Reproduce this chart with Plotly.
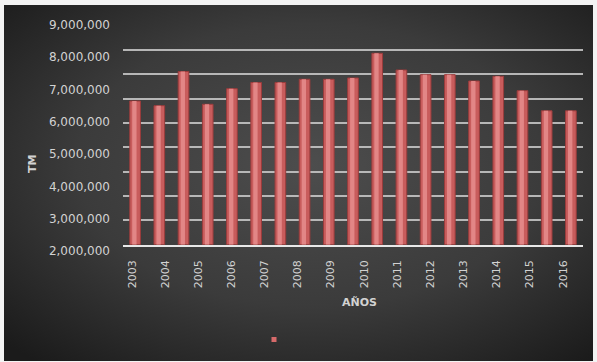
import base64
import plotly.graph_objects as go

# ---- data ----
years = ["2003", "2004", "2005", "2006", "2007", "2008", "2009",
         "2010", "2011", "2012", "2013", "2014", "2015", "2016"]
# the plotted columns (19 columns drawn against the 0-9M gridline scale)
bar_index = list(range(19))
bar_values = [5906000, 5713000, 7119000, 5771000, 6412000, 6667000, 6667000,
              6798000, 6798000, 6852000, 7867000, 7180000, 6987000, 6987000,
              6728000, 6921000, 6330000, 5503000, 5503000]
label_ticks = [2000000, 3000000, 4000000, 5000000, 6000000, 7000000, 8000000, 9000000]
grid_ticks = [0, 1000000, 2000000, 3000000, 4000000, 5000000, 6000000, 7000000, 8000000, 9000000]

W, H = 597, 362
def px(xp):
    return xp / W
def py(yp):
    return (H - yp) / H

svg = (
    '<svg xmlns="http://www.w3.org/2000/svg" width="600" height="360" '
    'viewBox="0 0 600 360" preserveAspectRatio="none">'
    '<defs><radialGradient id="g" cx="52%" cy="45%" r="72%">'
    '<stop offset="0" stop-color="#4d4d4d"/>'
    '<stop offset="0.55" stop-color="#3b3b3b"/>'
    '<stop offset="1" stop-color="#1b1b1b"/>'
    '</radialGradient></defs>'
    '<rect x="0" y="0" width="600" height="360" fill="url(#g)"/></svg>'
)
bg_src = "data:image/svg+xml;base64," + base64.b64encode(svg.encode()).decode()

fig = go.Figure()

# main columns
fig.add_trace(go.Bar(
    x=bar_index, y=bar_values, width=0.44,
    marker=dict(color="#c85c5c", line=dict(color="#9a3c3c", width=1)),
    showlegend=False, xaxis="x", yaxis="y",
))
# sheen on the columns
fig.add_trace(go.Bar(
    x=bar_index, y=bar_values, width=0.18, offset=-0.12,
    marker=dict(color="#e28686", line=dict(width=0)),
    showlegend=False, xaxis="x", yaxis="y",
))
fig.update_layout(barmode="overlay")

# invisible trace that carries the year categories / value labels
fig.add_trace(go.Scatter(
    x=years, y=[None] * len(years), mode="markers",
    marker=dict(opacity=0), showlegend=False, hoverinfo="skip",
    xaxis="x2", yaxis="y2",
))

# legend entry
fig.add_trace(go.Scatter(
    x=[None], y=[None], mode="markers", name="",
    marker=dict(symbol="square", size=5, color="#d66a6a"),
    showlegend=True, xaxis="x", yaxis="y",
))

fig.update_layout(
    width=W, height=H,
    autosize=False,
    margin=dict(l=0, r=0, t=0, b=0, pad=0, autoexpand=False),
    paper_bgcolor="#f3f3f3",
    plot_bgcolor="rgba(0,0,0,0)",
    images=[dict(source=bg_src, xref="paper", yref="paper",
                 x=px(4), y=py(5), sizex=px(593) - px(4), sizey=py(5) - py(361),
                 xanchor="left", yanchor="top", sizing="stretch", layer="below")],
    xaxis=dict(domain=[px(123), px(583)], range=[-0.5, 18.5], anchor="y",
               automargin=False,
               showticklabels=False, showgrid=False, zeroline=False,
               showline=True, linecolor="#e8e8e8", linewidth=2, ticks=""),
    yaxis=dict(domain=[py(244.7), py(25.7)], range=[0, 9000000], anchor="x",
               automargin=False,
               tickvals=grid_ticks, showticklabels=False, showgrid=True,
               gridcolor="rgba(205,205,205,0.85)", gridwidth=2,
               zeroline=False, showline=False, ticks=""),
    xaxis2=dict(domain=[px(115.4), px(579.6)], type="category",
                categoryorder="array", categoryarray=years,
                range=[-0.5, 13.5], anchor="free", position=py(257),
                automargin=False,
                tickangle=-90, showgrid=False, zeroline=False, showline=False,
                ticks="", tickfont=dict(family="DejaVu Sans", size=11, color="#d2d2d2")),
    yaxis2=dict(domain=[py(251), py(25)], range=[2000000, 9000000],
                anchor="free", position=px(110), tickvals=label_ticks,
                automargin=False,
                tickformat=",d", showgrid=False, zeroline=False, showline=False,
                ticks="", tickfont=dict(family="DejaVu Sans", size=12, color="#d2d2d2")),
    legend=dict(x=px(254), y=py(325), xanchor="left", yanchor="top",
                bgcolor="rgba(0,0,0,0)", font=dict(size=10, color="#d2d2d2"),
                orientation="h"),
    annotations=[
        dict(text="<b>TM</b>", xref="paper", yref="paper", x=px(33), y=py(164),
             xanchor="center", yanchor="middle",
             textangle=-90, showarrow=False,
             font=dict(family="DejaVu Sans", size=11, color="#d2d2d2")),
        dict(text="<b>AÑOS</b>", xref="paper", yref="paper", x=px(359), y=py(302),
             xanchor="center", yanchor="middle", showarrow=False,
             font=dict(family="DejaVu Sans", size=11, color="#d2d2d2")),
    ],
)

fig.write_html("out.html")
